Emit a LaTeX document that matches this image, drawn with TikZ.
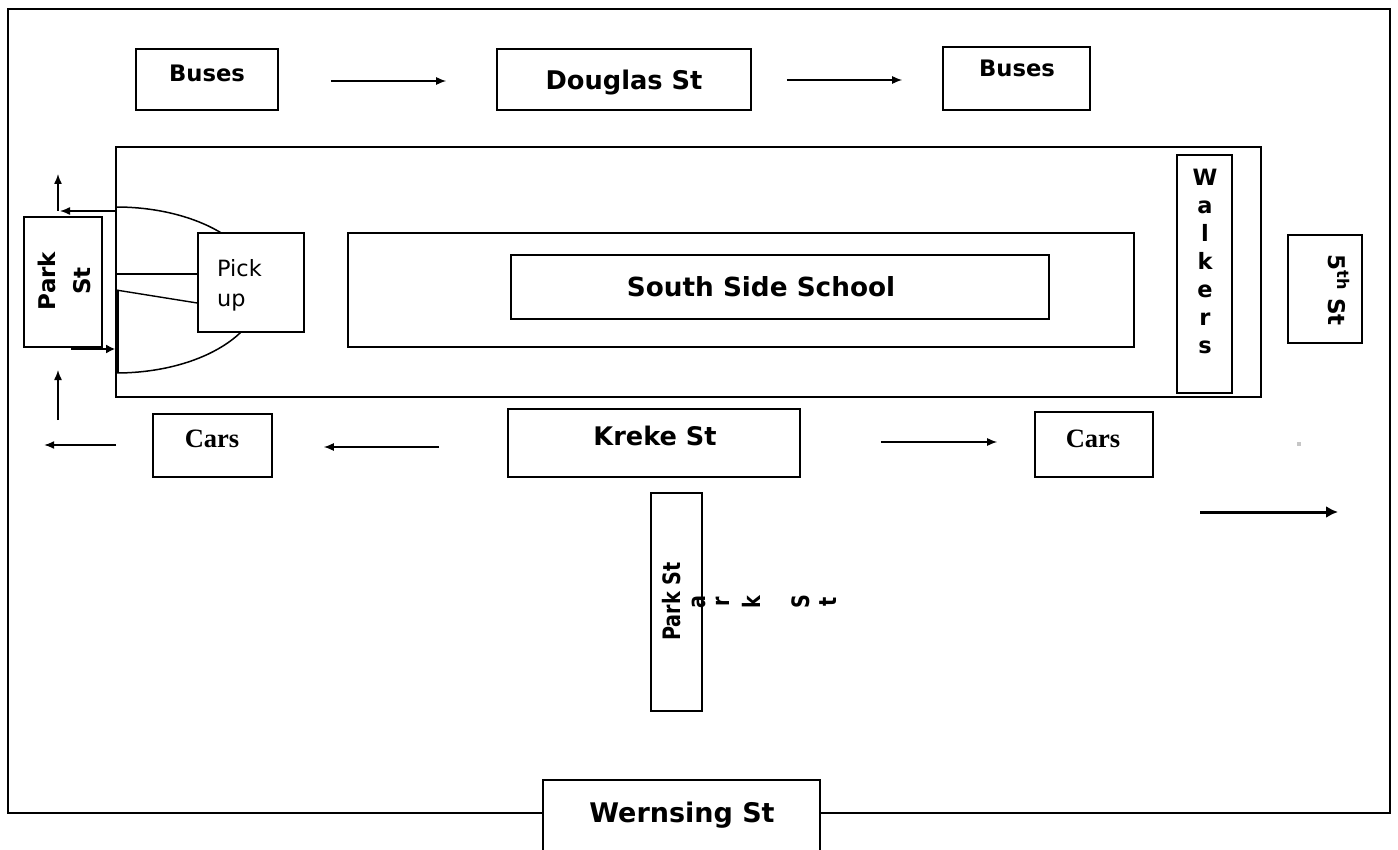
\documentclass[tikz,border=0pt]{standalone}
\usepackage{fontspec}
\setmainfont{DejaVu Sans}
\newfontfamily\vf{DejaVu Sans}
\newfontfamily\vfn[FakeStretch=0.8]{DejaVu Sans}
\newfontfamily\tnr{Liberation Serif}
\usetikzlibrary{arrows.meta}
\begin{document}
\begin{tikzpicture}[x=1pt,y=-1pt,
  box/.style={draw, line width=1.6pt, fill=white, inner sep=0pt},
  txt/.style={inner sep=0pt, anchor=base},
  bf/.style={font=\vf\bfseries\fontsize{#1}{#1}\selectfont},
  rg/.style={font=\vf\fontsize{#1}{#1}\selectfont},
  tm/.style={font=\tnr\bfseries\fontsize{#1}{#1}\selectfont},
  nf/.style={font=\vfn\bfseries\fontsize{#1}{#1}\selectfont},
  arr/.style={line width=1.4pt, -{Latex[length=10pt,width=8pt]}},
  thickarr/.style={line width=3pt, -{Latex[length=12pt,width=12pt]}},
]
\useasboundingbox (0,0) rectangle (1398,850);
\fill[white] (0,0) rectangle (1398,850);

% outer frame
\draw[line width=1.8pt] (543,813) -- (8,813) -- (8,9) -- (1390,9) -- (1390,813) -- (820,813);

% top row
\node[box, minimum width=142pt, minimum height=61pt] (busesL) at (207,79.5) {};
\node[box, minimum width=254pt, minimum height=61pt] (douglas) at (624,79.5) {};
\node[box, minimum width=147pt, minimum height=63pt] (busesR) at (1016.5,78.5) {};
\node[txt, bf=22.7] (tBusesL) at (207,82) {Buses};
\node[txt, bf=25.7] (tDouglas) at (624,90) {Douglas St};
\node[txt, bf=22.7] (tBusesR) at (1017,77) {Buses};
\draw[arr, shorten <=52pt, shorten >=50pt] (busesL.east |- 0,81) -- (douglas.west |- 0,81);
\draw[arr, shorten <=35pt, shorten >=40pt] (douglas.east |- 0,80) -- (busesR.west |- 0,80);

% school block
\node[box, minimum width=1145pt, minimum height=250pt] (school) at (688.5,272) {};
\node[box, minimum width=55pt, minimum height=238pt] (walkers) at (1204.5,274) {};
\node[inner sep=0pt, align=center, font=\vf\bfseries\fontsize{22.5}{28}\selectfont] (tWalkers) at (1205,261) {W\\a\\l\\k\\e\\r\\s};
\node[box, minimum width=786pt, minimum height=114pt] (inner) at (741,290) {};
\node[box, minimum width=538pt, minimum height=64pt] (sss) at (780,287) {};
\node[txt, bf=26.3] (tSSS) at (761,297) {South Side School};

% pick-up loop
\draw[line width=1.5pt] (116,207) arc[start angle=90, end angle=-90, x radius=145pt, y radius=83pt];
\node[box, minimum width=106pt, minimum height=99pt] (pickup) at (251,282.5) {};
\node[inner sep=0pt, anchor=base west, align=left, font=\vf\fontsize{22.4}{30}\selectfont] (tPickup) at (217,307) {Pick\\up};
\coordinate (l1) at (116,274);
\coordinate (l2) at (116,290);
\draw[line width=1.4pt] (l1) -- (l1 -| pickup.west);
\draw[line width=1.4pt] (l2) -- (pickup.west |- 0,303);
\draw[line width=2.8pt] (117.5,290) -- (117.5,373);

% Park St (left)
\node[box, minimum width=78pt, minimum height=130pt] (parkL) at (63,282) {};
\node[inner sep=0pt, rotate=90, align=center, font=\vf\bfseries\fontsize{23}{35}\selectfont] (tParkL) at (64,281) {Park\\St};
\coordinate (a1s) at (116,211);
\coordinate (a1e) at (60,211);
\draw[arr] (a1s) -- (a1e);
\coordinate (a2s) at (58,211);
\coordinate (a2e) at (58,174);
\draw[arr] (a2s) -- (a2e);
\draw[line width=2.6pt, -{Latex[length=9pt,width=9pt]}] (parkL.south east |- 0,349) ++(-32,0) -- (school.west |- 0,349);
\coordinate (a3s) at (58,420);
\coordinate (a3e) at (58,370);
\draw[arr] (a3s) -- (a3e);

% 5th St
\node[box, minimum width=74pt, minimum height=108pt] (fifth) at (1325,289) {};
\node[txt, rotate=-90, bf=23] (tFifth) at (1328,290) {5\textsuperscript{th} St};

% bottom row
\node[box, minimum width=119pt, minimum height=63pt] (carsL) at (212.5,445.5) {};
\node[box, minimum width=292pt, minimum height=68pt] (kreke) at (654,443) {};
\node[box, minimum width=118pt, minimum height=65pt] (carsR) at (1094,444.5) {};
\node[txt, tm=26.5] (tCarsL) at (212,447) {Cars};
\node[txt, bf=25.6] (tKreke) at (655,445) {Kreke St};
\node[txt, tm=26.5] (tCarsR) at (1093,447) {Cars};
\draw[arr, shorten <=68pt, shorten >=51pt] (kreke.west |- 0,447) -- (carsL.east |- 0,447);
\draw[arr, shorten <=80pt, shorten >=37pt] (kreke.east |- 0,442) -- (carsR.west |- 0,442);
\draw[arr] (carsL.west |- 0,445) ++(-36,0) -- ++(-72,0) coordinate (a4e);
\fill[gray!45] (1297,442) rectangle (1301,446);
\coordinate (a5s) at (1200,512);
\coordinate (a5e) at (1338,512);
\draw[thickarr] (a5s) -- (a5e);

% Park St (vertical, bottom)
\node[box, minimum width=51pt, minimum height=218pt] (parkV) at (676.5,602) {};
\node[txt, rotate=90, nf=24] (tParkV) at (680,601.5) {Park St};
\node[inner sep=0pt, rotate=90, nf=24] (la) at (699,602) {a};
\node[inner sep=0pt, rotate=90, nf=24] (lr) at (723,602) {r};
\node[inner sep=0pt, rotate=90, nf=24] (lk) at (751,602) {k};
\node[inner sep=0pt, rotate=90, nf=24] (lS) at (801,602) {S};
\node[inner sep=0pt, rotate=90, nf=24] (lt) at (828,602) {t};

% Wernsing St
\node[box, line width=1.8pt, minimum width=277pt, minimum height=140pt] (wernsing) at (681.5,850) {};
\node[txt, bf=27] (tWernsing) at (682,822) {Wernsing St};
\end{tikzpicture}
\end{document}
